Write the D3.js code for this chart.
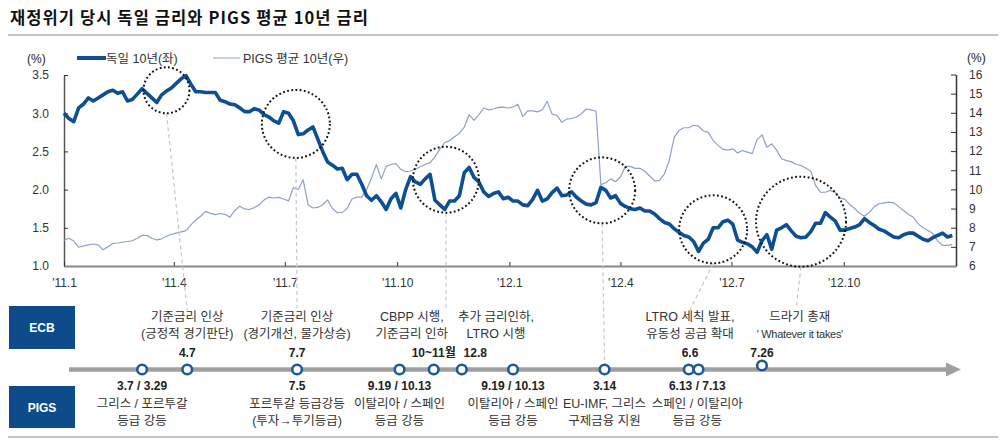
<!DOCTYPE html>
<html><head><meta charset="utf-8">
<script src="https://cdn.jsdelivr.net/npm/d3@7"></script>
<style>
body{margin:0;background:#fff;}
svg text{font-family:"Liberation Sans",Arial,"Noto Sans CJK KR",sans-serif;fill:#222;}
</style></head><body>
<svg id="c" width="1000" height="442"></svg>
<script>
// ---------------- data ----------------
const titleText = "재정위기 당시 독일 금리와 PIGS 평균 10년 금리";
const seriesNames = ["독일 10년(좌)", "PIGS 평균 10년(우)"];
const startDate = "2011-01-01";   // series sampled every 4 days
const stepDays = 4;
const germany = [3.0,2.93,2.89,3.07,3.12,3.2,3.16,3.2,3.24,3.28,3.3,3.26,3.28,3.16,3.18,3.25,3.32,3.26,3.2,3.14,
3.24,3.29,3.33,3.39,3.45,3.49,3.38,3.28,3.28,3.27,3.27,3.27,3.17,3.15,3.12,3.11,3.07,3.02,3.02,3.06,
3.04,2.98,2.95,2.9,2.87,3.02,3.0,2.9,2.72,2.73,2.78,2.82,2.66,2.5,2.36,2.32,2.27,2.28,2.13,2.2,
2.2,2.07,1.92,1.86,1.92,1.84,1.74,1.88,1.95,1.76,2.0,2.17,2.1,2.07,2.14,2.2,1.86,1.8,1.74,1.85,
1.85,1.92,2.22,2.29,2.16,2.1,1.97,1.91,1.95,1.97,1.88,1.9,1.85,1.85,1.8,1.79,1.87,1.99,1.85,1.88,
1.96,2.02,1.92,1.93,1.97,1.9,1.85,1.81,1.8,1.83,2.03,1.99,1.89,1.92,1.82,1.78,1.75,1.74,1.76,1.72,
1.72,1.68,1.62,1.57,1.55,1.49,1.44,1.4,1.38,1.32,1.19,1.3,1.35,1.5,1.5,1.58,1.6,1.55,1.34,1.31,
1.29,1.25,1.18,1.33,1.41,1.22,1.47,1.5,1.54,1.46,1.39,1.37,1.38,1.45,1.56,1.56,1.7,1.64,1.59,1.47,
1.47,1.49,1.51,1.54,1.62,1.57,1.53,1.48,1.46,1.42,1.38,1.37,1.41,1.43,1.43,1.39,1.35,1.33,1.37,1.4,
1.43,1.38,1.4];
const pigs = [7.34,7.45,7.3,6.98,7.05,7.1,7.15,7.1,6.85,7.0,7.18,7.2,7.24,7.28,7.32,7.45,7.6,7.6,7.45,7.36,
7.42,7.55,7.66,7.72,7.78,7.85,8.15,8.4,8.6,8.85,8.75,8.68,8.74,8.7,8.55,8.9,9.12,8.98,8.95,9.05,
9.2,9.45,9.6,9.55,9.58,9.5,9.4,10.1,10.0,10.5,9.2,9.03,9.06,9.2,9.45,9.0,8.78,8.8,9.0,9.5,
9.6,9.6,10.0,10.6,11.3,10.55,11.2,11.3,11.35,11.05,10.92,10.96,11.05,11.18,11.3,11.4,11.7,12.1,12.45,12.55,
12.75,12.92,13.25,13.9,13.6,13.9,14.25,14.15,14.2,14.28,14.3,14.25,14.3,14.45,13.8,14.1,14.1,14.05,14.15,14.6,
13.93,13.87,13.5,13.68,13.7,13.78,13.95,14.2,14.15,14.08,10.25,10.35,10.55,10.4,10.65,11.2,11.2,11.1,11.1,10.95,
10.7,10.45,10.47,10.8,11.5,12.7,13.08,13.22,13.22,13.35,13.3,13.05,12.98,12.55,12.3,12.1,12.05,12.12,11.9,12.03,
11.95,11.87,12.6,12.85,12.2,12.38,12.05,11.6,11.5,11.45,11.3,11.25,11.1,10.95,10.2,9.85,9.85,9.95,9.85,9.55,
9.48,9.2,9.0,8.75,8.6,8.8,9.1,9.25,9.3,9.34,9.3,9.1,8.9,8.7,8.55,8.2,8.0,7.85,7.7,7.3,
7.08,7.08,7.12];
const xDomain = ["2011-01-01", "2013-01-01"];
const xTickDates = ["2011-01-01","2011-04-01","2011-07-01","2011-10-01","2012-01-01","2012-04-01","2012-07-01","2012-10-01","2013-01-01"];
const xTickLabels = ["'11.1","'11.4","'11.7","'11.10","'12.1","'12.4","'12.7","'12.10",""];
const leftTicks = [1.0,1.5,2.0,2.5,3.0,3.5];
const rightTicks = [6,7,8,9,10,11,12,13,14,15,16];

// highlighted periods (dotted circles): centre date, centre value (left axis), link target date
const focusDates  = ["2011-03-26","2011-07-10","2011-11-10","2012-03-17","2012-06-16","2012-08-27"];
const focusValues = [3.30, 2.86, 2.13, 1.99, 1.48, 1.58];
const focusLinkTo = ["2011-04-12","2011-07-11","2011-11-10","2012-03-19","2012-05-28","2012-08-23"];

// timeline nodes
const nodeDates = ["2011-03-06","2011-04-12","2011-07-11","2011-10-03","2011-10-31","2011-11-23","2012-01-04","2012-03-19","2012-05-27","2012-06-04","2012-07-26"];
// ECB events (above the timeline)
const ecbDateAt    = ["2011-04-12","2011-07-11","2011-10-31","2011-12-04","2012-05-28","2012-07-26"];
const ecbDateLabel = ["4.7","7.7","10~11월","12.8","6.6","7.26"];
const ecbTextAt    = ["2011-04-12","2011-07-11","2011-10-13","2011-12-21","2012-05-28","2012-08-26"];
const ecbTextLines = [["기준금리 인상","(긍정적 경기판단)"],["기준금리 인상","(경기개선, 물가상승)"],["CBPP 시행,","기준금리 인하"],["추가 금리인하,","LTRO 시행"],["LTRO 세칙 발표,","유동성 공급 확대"],["드라기 총재","' Whatever it takes'"]];
// PIGS events (below the timeline)
const pigsAt    = ["2011-03-06","2011-07-11","2011-10-03","2012-01-04","2012-03-19","2012-06-03"];
const pigsDateLabel = ["3.7 / 3.29","7.5","9.19 / 10.13","9.19 / 10.13","3.14","6.13 / 7.13"];
const pigsTextLines = [["그리스 / 포르투갈","등급 강등"],["포르투갈 등급강등","(투자→투기등급)"],["이탈리아 / 스페인","등급 강등"],["이탈리아 / 스페인","등급 강등"],["EU-IMF, 그리스","구제금융 지원"],["스페인 / 이탈리아","등급 강등"]];

// ---------------- drawing ----------------
const svg = d3.select("#c");
const P = d3.timeParse("%Y-%m-%d");
const BLUE = "#0d4f92", LIGHT = "#8ea2c8", NODE = "#1d5a99";
const KR = '"Noto Sans CJK KR","Liberation Sans",sans-serif';
const LK = '"Liberation Sans","Noto Sans CJK KR",sans-serif';

const x = d3.scaleTime().domain(xDomain.map(P)).range([64, 956]);
const yL = d3.scaleLinear().domain([1.0, 3.5]).range([266, 75]);
const yR = d3.scaleLinear().domain([6, 16]).range([266, 74.5]);

const t0 = P(startDate);
const dateAt = i => d3.timeDay.offset(t0, i * stepDays);

// title
svg.append("text").attr("x", 10).attr("y", 24).text(titleText)
  .style("font-family", KR).style("font-weight", "bold").style("font-size", "16.5px").style("letter-spacing", "1.1px").style("fill", "#111");
svg.append("line").attr("x1", 8).attr("x2", 998).attr("y1", 35).attr("y2", 35)
  .attr("stroke", "#c4c4c4").attr("stroke-width", 2);

// units
svg.append("text").attr("x", 27).attr("y", 63).text("(%)").style("font-size", "12px");
svg.append("text").attr("x", 967).attr("y", 62).text("(%)").style("font-size", "12px");

// legend
svg.append("line").attr("x1", 77).attr("x2", 106).attr("y1", 58).attr("y2", 58).attr("stroke", BLUE).attr("stroke-width", 4);
svg.append("text").attr("x", 106).attr("y", 63).text(seriesNames[0]).style("font-size", "12.5px").style("font-family", LK).style("fill","#333");
svg.append("line").attr("x1", 213).attr("x2", 240).attr("y1", 58).attr("y2", 58).attr("stroke", "#b2c0da").attr("stroke-width", 1.5);
svg.append("text").attr("x", 243).attr("y", 63).text(seriesNames[1]).style("font-size", "12.5px").style("font-family", LK).style("fill","#333");

// axes
const axL = svg.append("g").attr("transform", "translate(64,0)")
  .call(d3.axisLeft(yL).tickValues(leftTicks).tickFormat(d3.format(".1f")).tickSizeInner(-4).tickSizeOuter(0).tickPadding(15));
const axR = svg.append("g").attr("transform", "translate(956,0)")
  .call(d3.axisRight(yR).tickValues(rightTicks).tickFormat(d3.format("d")).tickSizeInner(-5).tickSizeOuter(0).tickPadding(13));
const axB = svg.append("g").attr("transform", "translate(0,266)")
  .call(d3.axisBottom(x).tickValues(xTickDates.map(P)).tickFormat((d, i) => xTickLabels[i]).tickSizeInner(-4).tickSizeOuter(0).tickPadding(12));
[axL, axR, axB].forEach(a => {
  a.selectAll("text").style("font-size", "12px").style("fill", "#333").attr("font-family", null);
  a.selectAll(".tick line").attr("stroke", "#333");
});
axL.select(".domain").attr("stroke", "#555").attr("stroke-width", 1.5);
axR.select(".domain").attr("stroke", "#333").attr("stroke-width", 1.5);
axB.select(".domain").attr("stroke", "#888").attr("stroke-width", 2);

// lines
const lineR = d3.line().x((d, i) => x(dateAt(i))).y(d => yR(d));
const lineL = d3.line().x((d, i) => x(dateAt(i))).y(d => yL(d));
svg.append("path").datum(pigs).attr("d", lineR).attr("fill", "none").attr("stroke", LIGHT).attr("stroke-width", 1.2).attr("stroke-linejoin", "round");
svg.append("path").datum(germany).attr("d", lineL).attr("fill", "none").attr("stroke", BLUE).attr("stroke-width", 3.6).attr("stroke-linejoin", "round");

// dotted circles + dashed connectors
const focusR = [23, 34, 33, 33, 34, 45];
const linkEndY = [310, 308, 308, 362, 310, 308];
focusDates.forEach((d, i) => {
  const cx = x(P(d)), cy = yL(focusValues[i]), r = focusR[i];
  svg.append("line").attr("x1", cx).attr("y1", cy + r).attr("x2", x(P(focusLinkTo[i]))).attr("y2", linkEndY[i])
    .attr("stroke", "#c8c8c8").attr("stroke-width", 1.2).attr("stroke-dasharray", "4,3");
  svg.append("circle").attr("cx", cx).attr("cy", cy).attr("r", r).attr("fill", "none")
    .attr("stroke", "#111").attr("stroke-width", 2).attr("stroke-dasharray", "1.8,2.4");
});

// timeline boxes
[["ECB", 306, 349], ["PIGS", 386, 428]].forEach(([t, y0, y1]) => {
  svg.append("rect").attr("x", 9).attr("y", y0).attr("width", 66).attr("height", y1 - y0).attr("fill", "#0e4b8b");
  svg.append("text").attr("x", 42).attr("y", (y0 + y1) / 2 + 4.5).attr("text-anchor", "middle").text(t)
    .style("fill", "#fff").style("font-weight", "bold").style("font-size", "12px");
});
// arrow
svg.append("line").attr("x1", 69).attr("x2", 948).attr("y1", 369.5).attr("y2", 369.5).attr("stroke", "#a0a0a0").attr("stroke-width", 4.5);
svg.append("path").attr("d", "M946,362.5L961,369.5L946,376.5Z").attr("fill", "#a0a0a0");
svg.append("line").attr("x1", 8).attr("x2", 998).attr("y1", 437).attr("y2", 437).attr("stroke", "#c4c4c4").attr("stroke-width", 2);

// nodes
nodeDates.forEach((d, i) => {
  svg.append("circle").attr("cx", x(P(d))).attr("cy", d === "2012-07-26" ? 365.5 : 369.5).attr("r", 4.8)
    .attr("fill", "#fff").attr("stroke", NODE).attr("stroke-width", 2.6);
});

// ECB labels
ecbDateAt.forEach((d, i) => {
  svg.append("text").attr("x", x(P(d))).attr("y", 357).attr("text-anchor", "middle").text(ecbDateLabel[i])
    .style("font-weight", "bold").style("font-size", "12px").style("font-family", LK).style("fill", "#222");
});
ecbTextAt.forEach((d, i) => {
  ecbTextLines[i].forEach((ln, j) => {
    const t = svg.append("text").attr("x", x(P(d))).attr("y", 321 + j * 17).attr("text-anchor", "middle").text(ln)
      .style("font-size", "12.5px").style("font-family", LK).style("fill", "#333");
    if (ln.startsWith("'")) t.style("font-size", "11px").style("font-family", '"Liberation Sans Narrow","Liberation Sans",sans-serif').style("letter-spacing", "-0.3px");
  });
});
// PIGS labels
pigsAt.forEach((d, i) => {
  svg.append("text").attr("x", x(P(d))).attr("y", 389.5).attr("text-anchor", "middle").text(pigsDateLabel[i])
    .style("font-weight", "bold").style("font-size", "12px").style("fill", "#222");
  pigsTextLines[i].forEach((ln, j) => {
    svg.append("text").attr("x", x(P(d))).attr("y", 407.5 + j * 17).attr("text-anchor", "middle").text(ln)
      .style("font-size", "12.5px").style("font-family", LK).style("fill", "#333");
  });
});
</script>
</body></html>
